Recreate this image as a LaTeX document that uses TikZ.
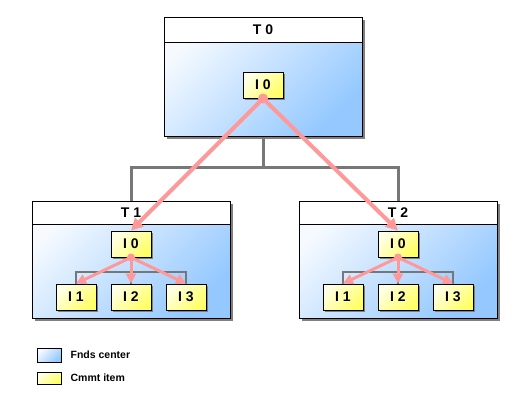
\documentclass[tikz,border=0pt]{standalone}
\usepackage{fontspec}
\setmainfont{Liberation Sans}
\usepackage{tikz}
\usetikzlibrary{arrows.meta,positioning,shadows}
\definecolor{TierBlue}  {HTML}{94C8FF}
\definecolor{TierWhite} {HTML}{F6FAFF}
\definecolor{ItemYellow}{HTML}{FFFF66}
\definecolor{ItemLight} {HTML}{FFFFE6}
\definecolor{LinkPink}  {HTML}{FF9999}
\definecolor{TreeGray}  {HTML}{777777}
\tikzset{
  tierbox/.style={draw=black,line width=1pt,inner sep=0pt,
    minimum width=198pt,minimum height=117pt,
    top color=TierWhite,bottom color=TierBlue,shading angle=45,
    drop shadow={shadow xshift=3pt,shadow yshift=-3pt,fill=black!50,opacity=1}},
  headbox/.style={draw=black,line width=1pt,fill=white,inner sep=0pt,
    minimum width=198pt,minimum height=24pt,anchor=north,
    font=\bfseries\fontsize{14}{16}\selectfont},
  itembox/.style={draw=black,line width=.9pt,inner sep=0pt,
    minimum width=40pt,minimum height=26pt,
    top color=ItemLight,bottom color=ItemYellow,shading angle=45,
    font=\bfseries\fontsize{14}{16}\selectfont,
    drop shadow={shadow xshift=2pt,shadow yshift=-2pt,fill=black!50,opacity=1}},
  treeline/.style={draw=TreeGray,line width=3pt},
  subline/.style={draw=TreeGray,line width=2pt},
  linkarrow/.style={draw=LinkPink,line width=4pt,-{Triangle[length=12pt,width=12pt]}},
  sublink/.style={draw=LinkPink,line width=3pt,-{Triangle[length=10pt,width=10pt]}},
  legendbox/.style={draw=black,line width=.8pt,inner sep=0pt,minimum width=24pt},
  legendtext/.style={inner sep=0pt,font=\bfseries\fontsize{10.5}{12}\selectfont},
}

\begin{document}
\begin{tikzpicture}[x=1pt,y=-1pt]
    \useasboundingbox (0,0) rectangle (524,405);
    % Tier 0
    \node[tierbox,minimum height=119pt] (t0) at (263,76.5) {};
    \node[headbox,minimum height=25pt] (t0head) at (t0.north) {T 0};
    \node[itembox] (t0i0) at (263,85) {I 0};
    % Tier 1
    \node[tierbox] (t1) at (131,259.5) {};
    \node[headbox,minimum height=23pt] (t1head) at (t1.north) {T 1};
    \node[itembox] (t1i0) at (131,244) {I 0};
    \node[itembox] (t1i1) at (76,297)  {I 1};
    \node[itembox] (t1i2) at (131,297) {I 2};
    \node[itembox] (t1i3) at (186,297) {I 3};
    % Tier 2
    \node[tierbox] (t2) at (398,259.5) {};
    \node[headbox,minimum height=23pt] (t2head) at (t2.north) {T 2};
    \node[itembox] (t2i0) at (398,244) {I 0};
    \node[itembox] (t2i1) at (343,297) {I 1};
    \node[itembox] (t2i2) at (398,297) {I 2};
    \node[itembox] (t2i3) at (453,297) {I 3};
    % Gray tree lines
    \draw[treeline] (t0.south) -- ++(0,31) coordinate (t0fork) -| (t1.north);
    \draw[treeline] (t0fork) -| (t2.north);
    \draw[subline] (t1i0.south) -- ++(0,15) coordinate (t1fork) -| (t1i1.north);
    \draw[subline] (t1fork) -| (t1i3.north);
    \draw[subline] (t1fork) -- (t1i2.north);
    \draw[subline] (t2i0.south) -- ++(0,15) coordinate (t2fork) -| (t2i1.north);
    \draw[subline] (t2fork) -| (t2i3.north);
    \draw[subline] (t2fork) -- (t2i2.north);
    % Pink links
    \draw[linkarrow] (t0i0.south) -- (t1i0.north);
    \draw[linkarrow] (t0i0.south) -- (t2i0.north);
    \fill[LinkPink] (t0i0.south) circle (5pt);
    \draw[sublink] (t1i0.south) -- (t1i1.north);
    \draw[sublink] (t1i0.south) -- (t1i2.north);
    \draw[sublink] (t1i0.south) -- (t1i3.north);
    \fill[LinkPink] (t1i0.south) circle (4pt);
    \draw[sublink] (t2i0.south) -- (t2i1.north);
    \draw[sublink] (t2i0.south) -- (t2i2.north);
    \draw[sublink] (t2i0.south) -- (t2i3.north);
    \fill[LinkPink] (t2i0.south) circle (4pt);
    % Legend
    \node[legendbox,minimum height=14pt,top color=TierWhite,bottom color=TierBlue,shading angle=45] (legfunds) at (49,355) {};
    \node[legendtext,right=9pt of legfunds] (legfundstext) {Fnds center};
    \node[legendbox,minimum height=12pt,top color=ItemLight,bottom color=ItemYellow,shading angle=45] (legitem) at (49,378) {};
    \node[legendtext,right=9pt of legitem] (legitemtext) {Cmmt item};
\end{tikzpicture}
\end{document}
